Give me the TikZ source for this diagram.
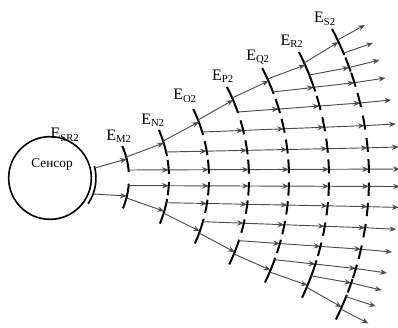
\documentclass[tikz,border=0pt]{standalone}
\usepackage{fontspec}
\setmainfont{Liberation Serif}
\usetikzlibrary{arrows.meta}

% wave data: centres of the outer pieces, row starts, row ends
\def\tops{{19,35,56,78,97,113,136}}
\def\rst{{8,26,46,66,86,103,125}}
\def\ren{{9,31,54,78,100,118,135}}

\newcommand\wavept[3]{%
  \pgfmathsetmacro\wva{asin((#3)/(#2))}%
  \path (50,149) ++(\wva:#2) coordinate (#1);}
\newcommand\waveseg[3]{%
  \pgfmathsetmacro\wva{asin((#2)/(#1))}%
  \pgfmathsetmacro\wvb{asin((#3)/(#1))}%
  \draw[wave] (50,149) ++(\wva:#1) arc[start angle=\wva, end angle=\wvb, radius=#1];}

\begin{document}
\begin{tikzpicture}[x=0.75pt, y=0.75pt, >={Stealth[length=5pt,width=4pt]}]
\tikzset{
  wave/.style={line width=1.5pt, black},
  ray/.style={->, line width=0.7pt, black!70},
  lbl/.style={font=\fontsize{12}{14}\selectfont, inner sep=0pt}
}
\useasboundingbox (0,0) rectangle (398,327);

% sensor
\node[circle, draw, line width=1.2pt, minimum size=62pt, inner sep=0pt] (sens) at (50,149) {};
\node[font=\fontsize{10}{12}\selectfont, inner sep=0pt] (senstxt) at (52,162) {Сенсор};
\draw[line width=1.2pt] (50,149) ++(15:46) arc[start angle=15, end angle=-34, radius=46];
\wavept{t-src}{46}{10}
\wavept{b-src}{46}{-16}

\foreach \sg/\fac/\side in {1/1/t,-1/0.95/b} {
  % outer pieces and the diagonal rays
  \wavept{\side-end}{350}{\sg*\fac*153}
  \foreach \stg in {0,...,6} {
    \pgfmathsetmacro\rad{79+40*\stg}
    \pgfmathsetmacro\ctr{\tops[\stg]}
    \wavept{\side-top-\stg}{\rad}{\sg*\fac*\ctr}
    \wavept{\side-dep-\stg}{\rad}{\sg*\fac*(\ctr+2)}
    \waveseg{\rad}{\sg*\fac*(\ctr-13)}{\sg*\fac*(\ctr+13)}
  }
  \draw[ray] (\side-src) -- (\side-top-0);
  \foreach \stg [evaluate=\stg as \nxt using int(\stg+1)] in {0,...,5}
    \draw[ray] (\side-dep-\stg) -- (\side-top-\nxt);
  \draw[ray] (\side-dep-6) -- (\side-end);
  % rows
  \foreach \row in {0,...,6} {
    \pgfmathsetmacro\rowa{\rst[\row]}
    \pgfmathsetmacro\rowb{\ren[\row]}
    \foreach \stg in {\row,...,6} {
      \pgfmathtruncatemacro\nxt{\stg+1}
      \pgfmathsetmacro\radp{79+40*\stg}
      \pgfmathsetmacro\radq{\nxt<7 ? 79+40*\nxt : 350}
      \pgfmathsetmacro\offp{\rowa+(\rowb-\rowa)*(\stg-\row)/(7-\row)}
      \pgfmathsetmacro\offq{\rowa+(\rowb-\rowa)*(\nxt-\row)/(7-\row)}
      \wavept{\side-row-\row-\stg}{\radp}{\sg*\fac*\offp}
      \wavept{\side-row-\row-\nxt}{\radq}{\sg*\fac*\offq}
      \draw[ray] (\side-row-\row-\stg) -- (\side-row-\row-\nxt);
      \ifnum\stg>\row \waveseg{\radp}{\sg*\fac*(\offp-4)}{\sg*\fac*(\offp+10)}\fi
    }
  }
}

% labels
\node[lbl] (lsr) at (65,192) {E\textsubscript{SR2}};
\node[lbl] (lm) at (119,191) {E\textsubscript{M2}};
\node[lbl] (ln) at (153,207) {E\textsubscript{N2}};
\node[lbl] (lo) at (185,231) {E\textsubscript{O2}};
\node[lbl] (lp) at (223,251) {E\textsubscript{P2}};
\node[lbl] (lq) at (258,270) {E\textsubscript{Q2}};
\node[lbl] (lr) at (292,286) {E\textsubscript{R2}};
\node[lbl] (ls) at (325,308) {E\textsubscript{S2}};
\end{tikzpicture}
\end{document}
